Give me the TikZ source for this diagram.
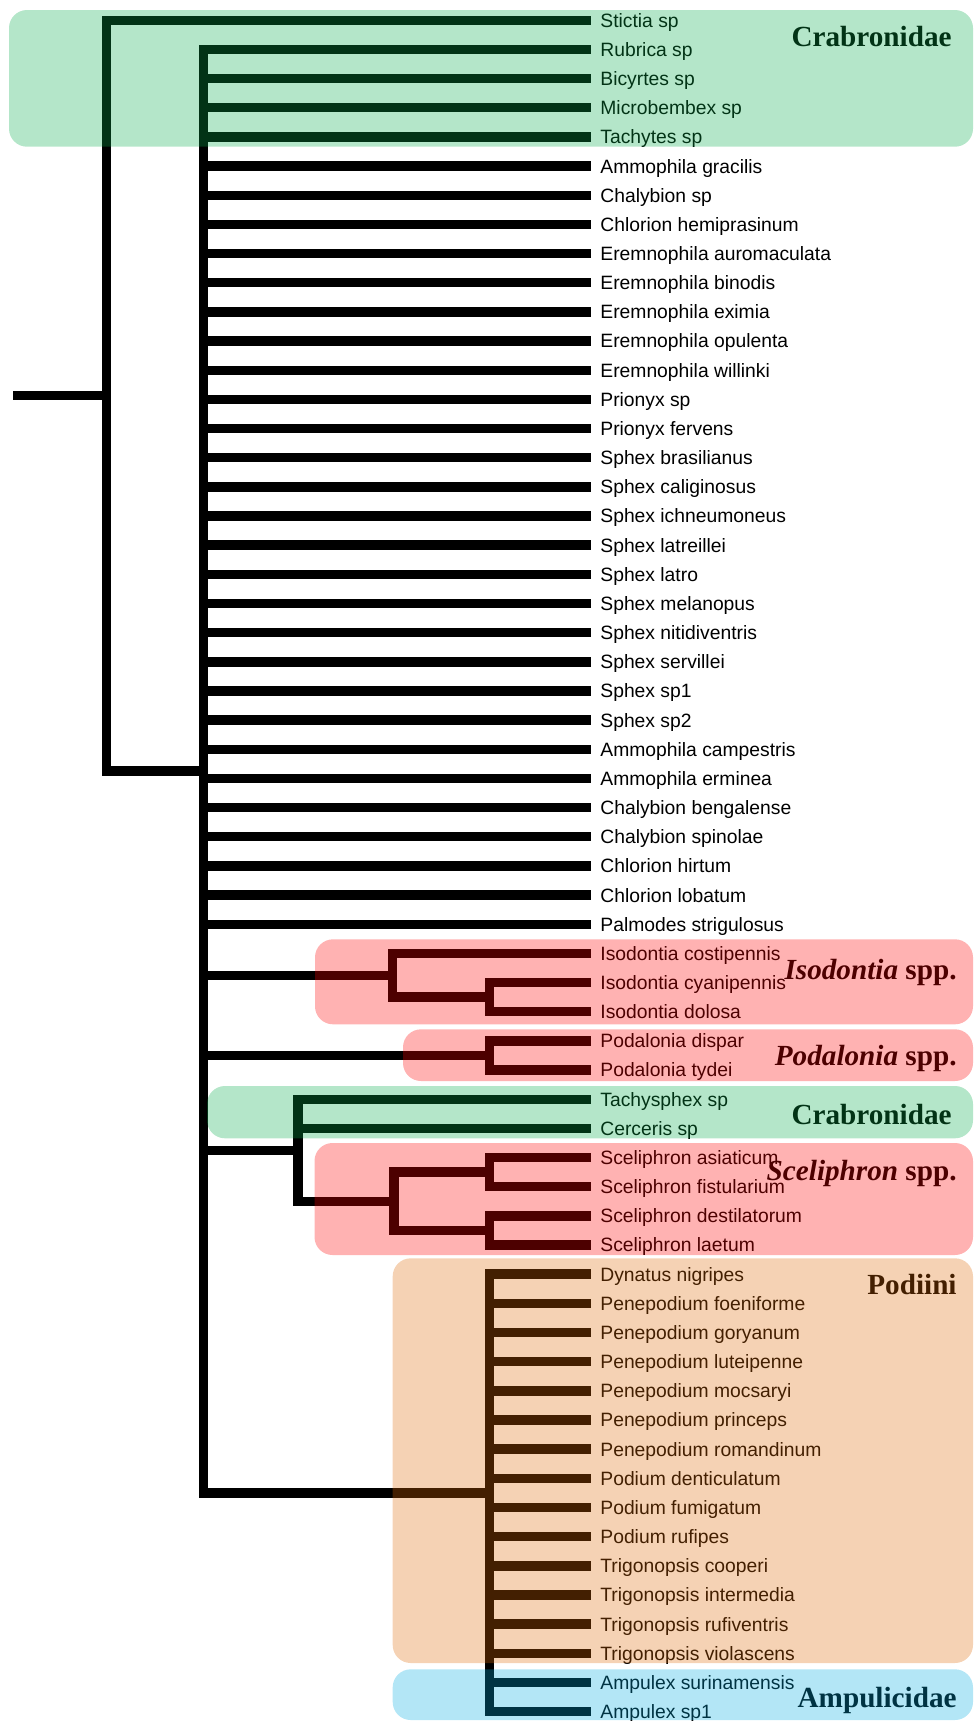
\documentclass[tikz,border=0pt]{standalone}
\usepackage{fontspec}
\setmainfont{Liberation Sans}
\newfontfamily\cladefont{Liberation Serif}
\definecolor{crabgreen}{RGB}{8,172,75}
\definecolor{genred}{RGB}{255,0,0}
\definecolor{podorange}{RGB}{222,105,5}
\definecolor{ampblue}{RGB}{2,172,225}

\begin{document}
\begin{tikzpicture}[x=0.5pt, y=-0.5pt,
  branch/.style={line width=4.7pt, line join=miter, line cap=butt},
  taxon/.style={anchor=base west, inner sep=0pt, font=\fontsize{9.65}{11}\selectfont},
  cladename/.style={anchor=base east, inner sep=0pt, font=\cladefont\bfseries\fontsize{14.6}{17}\selectfont},
  tint/.style={fill=#1, fill opacity=0.3, rounded corners=9pt}]
\useasboundingbox (0,0) rectangle (974,1721);

% leaves
\foreach \name [count=\i] in {Stictia sp, Rubrica sp, Bicyrtes sp, Microbembex sp,
  Tachytes sp, Ammophila gracilis, Chalybion sp, Chlorion hemiprasinum,
  Eremnophila auromaculata, Eremnophila binodis, Eremnophila eximia,
  Eremnophila opulenta, Eremnophila willinki, Prionyx sp, Prionyx fervens,
  Sphex brasilianus, Sphex caliginosus, Sphex ichneumoneus, Sphex latreillei,
  Sphex latro, Sphex melanopus, Sphex nitidiventris, Sphex servillei,
  Sphex sp1, Sphex sp2, Ammophila campestris, Ammophila erminea,
  Chalybion bengalense, Chalybion spinolae, Chlorion hirtum, Chlorion lobatum,
  Palmodes strigulosus, Isodontia costipennis, Isodontia cyanipennis,
  Isodontia dolosa, Podalonia dispar, Podalonia tydei, Tachysphex sp,
  Cerceris sp, Sceliphron asiaticum, Sceliphron fistularium,
  Sceliphron destilatorum, Sceliphron laetum, Dynatus nigripes,
  Penepodium foeniforme, Penepodium goryanum, Penepodium luteipenne,
  Penepodium mocsaryi, Penepodium princeps, Penepodium romandinum,
  Podium denticulatum, Podium fumigatum, Podium rufipes, Trigonopsis cooperi,
  Trigonopsis intermedia, Trigonopsis rufiventris, Trigonopsis violascens,
  Ampulex surinamensis, Ampulex sp1}{
  \coordinate (t\i) at (590.7, {20.3+29.16*(\i-1)});
  \node[taxon] (l\i) at (600, {27.2+29.16*(\i-1)}) {\name};
}

% inner nodes
\coordinate (r0) at (13.3, 395.7);
\coordinate (R) at (106.7, 395.7);
\coordinate (A) at (203.3, 771.17);
\coordinate (Iso) at (392.5, 975.29);
\coordinate (Iso2) at (489.5, 997.16);
\coordinate (Poda) at (489.5, 1055.48);
\coordinate (TS) at (298, 1150.25);
\coordinate (Scel) at (394, 1201.28);
\coordinate (Sc1) at (489.5, 1172.12);
\coordinate (Sc2) at (489.5, 1230.44);
\coordinate (Pod) at (489.5, 1492.88);

\draw[branch] (r0) -- (R);
\draw[branch] (R) |- (t1);
\draw[branch] (R) |- (A);
\foreach \i in {2,...,32} \draw[branch] (A) |- (t\i);
\draw[branch] (A) |- (Iso);
\draw[branch] (A) |- (Poda);
\draw[branch] (A) |- (TS);
\draw[branch] (A) |- (Pod);
\draw[branch] (Iso) |- (t33);
\draw[branch] (Iso) |- (Iso2);
\draw[branch] (Iso2) |- (t34);
\draw[branch] (Iso2) |- (t35);
\draw[branch] (Poda) |- (t36);
\draw[branch] (Poda) |- (t37);
\draw[branch] (TS) |- (t38);
\draw[branch] (TS) |- (t39);
\draw[branch] (TS) |- (Scel);
\draw[branch] (Scel) |- (Sc1);
\draw[branch] (Scel) |- (Sc2);
\draw[branch] (Sc1) |- (t40);
\draw[branch] (Sc1) |- (t41);
\draw[branch] (Sc2) |- (t42);
\draw[branch] (Sc2) |- (t43);
\foreach \i in {44,...,59} \draw[branch] (Pod) |- (t\i);

% group names
\node[cladename] (crab1) at (952, 46.7) {Crabronidae};
\node[cladename] (isoname) at (957, 979.3) {\textit{Isodontia} spp.};
\node[cladename] (podaname) at (957, 1065.7) {\textit{Podalonia} spp.};
\node[cladename] (crab2) at (952, 1124) {Crabronidae};
\node[cladename] (scelname) at (957, 1180) {\textit{Sceliphron} spp.};
\node[cladename] (podiini) at (957, 1294) {Podiini};
\node[cladename] (ampname) at (957, 1707) {Ampulicidae};

% tinted boxes on top
\fill[tint=crabgreen] (9, 10) rectangle (973, 146.7);
\fill[tint=genred] (315, 939.3) rectangle (973, 1024.3);
\fill[tint=genred] (403, 1029.3) rectangle (973, 1081);
\fill[tint=crabgreen] (207, 1086) rectangle (973, 1138.3);
\fill[tint=genred] (314.5, 1143) rectangle (973, 1255);
\fill[tint=podorange] (392.7, 1258.3) rectangle (973, 1663);
\fill[tint=ampblue] (392.7, 1669.3) rectangle (973, 1720);
\end{tikzpicture}
\end{document}
